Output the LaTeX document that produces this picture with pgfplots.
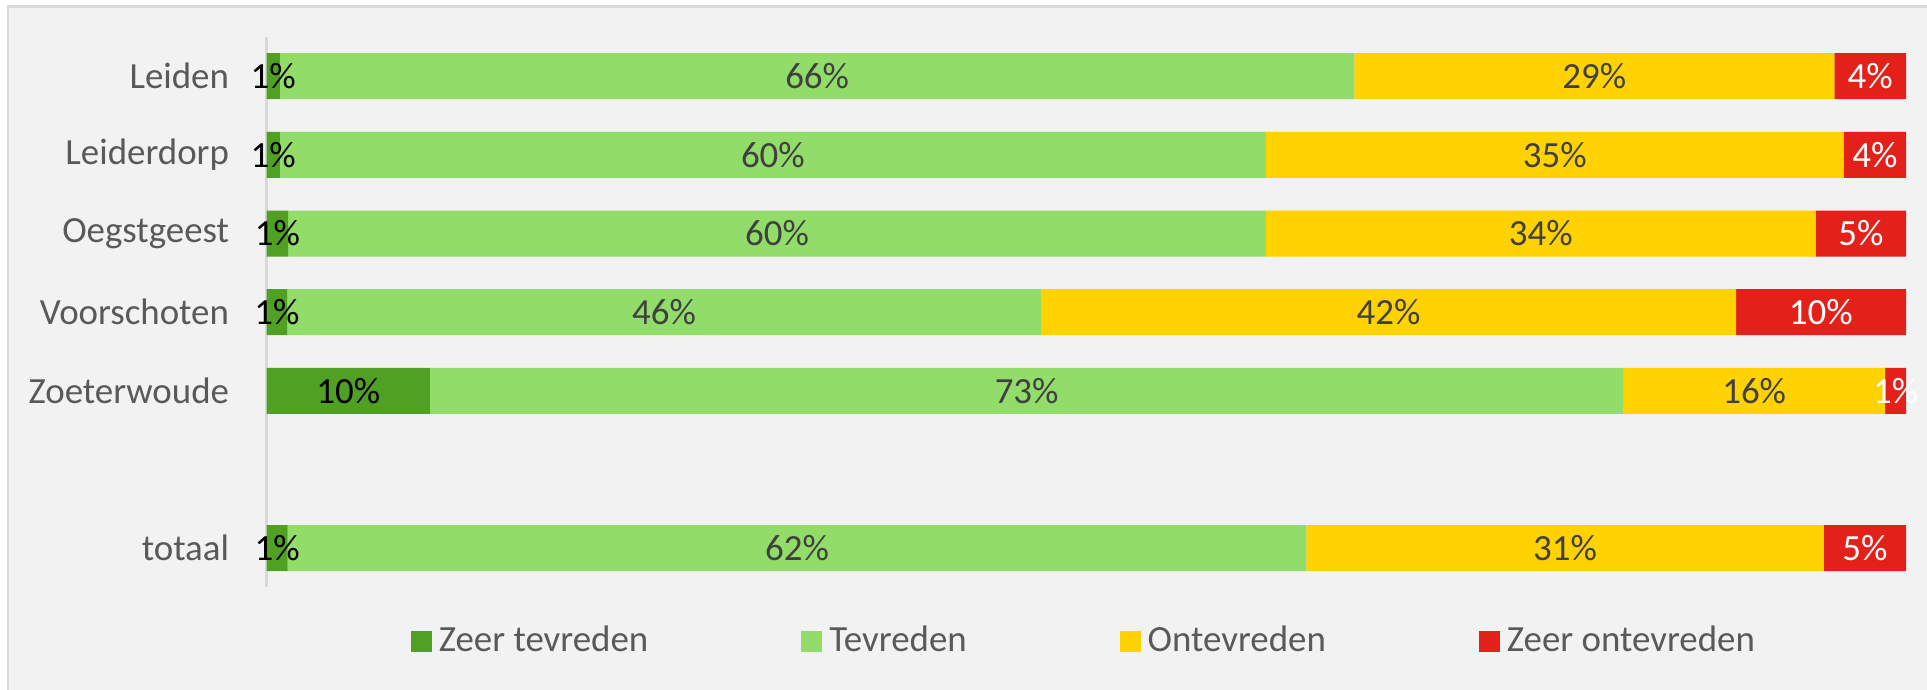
\documentclass[border=0pt]{standalone}
\usepackage{pgfplots}
\pgfplotsset{compat=1.18}
\usepackage{pgfplotstable}
\usepackage{fontspec}
\setmainfont{Carlito}
\definecolor{dgreen}{HTML}{50A024}
\definecolor{lgreen}{HTML}{92DC6A}
\definecolor{cyellow}{HTML}{FFD200}
\definecolor{cred}{HTML}{E3211A}
\definecolor{bg}{HTML}{F2F2F2}
\definecolor{bord}{HTML}{D9D9D9}
\definecolor{lab}{HTML}{595959}
\definecolor{dlab}{HTML}{404040}

% segments (percent) per category row y
\pgfplotstableread{
y  zt     t      o      zo
0  0.80   65.55  29.28  4.37
1  0.80   60.15  35.25  3.80
2  1.30   59.65  33.54  5.51
3  1.24   45.99  42.40  10.37
4  9.96   72.79  15.98  1.27
6  1.28   62.14  31.57  5.01
}\segs

% label positions (segment midpoints) and label text
\pgfplotstableread{
y  x      l
0  0.40   1
1  0.40   1
2  0.65   1
3  0.62   1
4  4.98   10
6  0.64   1
}\labzt
\pgfplotstableread{
y  x      l
0  33.58  66
1  30.88  60
2  31.13  60
3  24.24  46
4  46.36  73
6  32.35  62
}\labt
\pgfplotstableread{
y  x      l
0  80.99  29
1  78.58  35
2  77.72  34
3  68.43  42
4  90.74  16
6  79.20  31
}\labo
\pgfplotstableread{
y  x      l
0  97.82  4
1  98.10  4
2  97.25  5
3  94.80  10
4  99.37  1
6  97.50  5
}\labzo

\begin{document}
\begin{tikzpicture}
\path[use as bounding box] (0,0) rectangle (192.7mm,69mm);
\fill[white] (0,0) rectangle (192.7mm,69mm);
\draw[bord, fill=bg, line width=0.3mm] (0.8mm,-3mm) rectangle (196mm,68.3mm);

\pgfplotsset{
  commonax/.style={
    scale only axis,
    width=163.93mm, height=55.05mm,
    at={(26.67mm,10.26mm)}, anchor=south west,
    xmin=0, xmax=100, ymin=-0.5, ymax=6.5,
    y dir=reverse,
  },
  lbl/.style={draw=none, nodes near coords={\pgfplotspointmeta\%},
    point meta=explicit symbolic,
    nodes near coords style={anchor=center, inner sep=0pt,
      font=\fontsize{10.5}{12.6}\selectfont, text=#1}},
}

\begin{axis}[commonax,
  xbar stacked, bar width=4.6mm, bar shift=0pt,
  axis x line=none, axis y line=left,
  y axis line style={draw=bord, line width=0.25mm, -},
  xtick=\empty,
  ytick={0,1,2,3,4,6},
  yticklabels={Leiden,Leiderdorp,Oegstgeest,Voorschoten,Zoeterwoude,totaal},
  major tick length=0pt,
  ytick style={draw=none},
  yticklabel style={font=\fontsize{10.5}{12.6}\selectfont, text=lab, inner sep=0pt, xshift=-3.7mm},
  legend columns=4,
  legend style={at={(0.5,-0.098)}, anchor=center, draw=none, fill=none,
    font=\fontsize{10.5}{12.6}\selectfont, text=lab,
    /tikz/every even column/.append style={column sep=14.6mm}},
  legend image code/.code={\fill[#1] (0mm,-1.05mm) rectangle (2.1mm,1.05mm);},
]
\addplot[fill=dgreen, draw=none] table[x=zt, y=y] {\segs};
\addplot[fill=lgreen, draw=none] table[x=t, y=y] {\segs};
\addplot[fill=cyellow, draw=none] table[x=o, y=y] {\segs};
\addplot[fill=cred, draw=none] table[x=zo, y=y] {\segs};
\legend{Zeer tevreden, Tevreden, Ontevreden, Zeer ontevreden}
\end{axis}

\begin{axis}[commonax, hide axis]
\addplot[lbl=black] table[x=x, y=y, meta=l] {\labzt};
\addplot[lbl=dlab] table[x=x, y=y, meta=l] {\labt};
\addplot[lbl=dlab] table[x=x, y=y, meta=l] {\labo};
\addplot[lbl=white] table[x=x, y=y, meta=l] {\labzo};
\end{axis}
\end{tikzpicture}
\end{document}
